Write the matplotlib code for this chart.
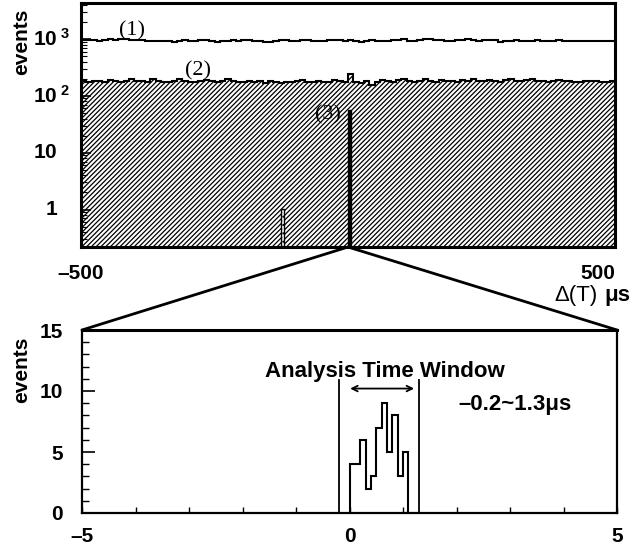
import numpy as np
import matplotlib
matplotlib.use("Agg")
import matplotlib.pyplot as plt
import matplotlib.transforms as mtransforms
from matplotlib.patches import ConnectionPatch

plt.rcParams['font.family'] = ['Liberation Sans', 'DejaVu Sans']
plt.rcParams['mathtext.fontset'] = 'custom'
plt.rcParams['mathtext.rm'] = 'Liberation Sans'
plt.rcParams['mathtext.bf'] = 'Liberation Sans:bold'
plt.rcParams['hatch.linewidth'] = 0.9

# ---------------- data ----------------
top_edges = np.arange(-500, 501, 10)  # delta T bins (us)

series1 = [960, 950, 975, 940, 955, 990, 980, 1000, 990, 975,
           950, 965, 940, 925, 910, 935, 920, 900, 915, 945,
           930, 905, 960, 950, 935, 895, 920, 935, 950, 930,
           960, 975, 935, 915, 900, 890, 935, 950, 965, 920,
           935, 965, 950, 905, 915, 935, 950, 980, 965, 935,
           950, 920, 900, 930, 955, 915, 935, 930, 950, 965,
           985, 940, 915, 950, 990, 1000, 980, 950, 915, 935,
           950, 965, 985, 950, 930, 965, 980, 950, 900, 915,
           930, 950, 935, 915, 935, 950, 940, 915, 935, 950,
           935, 935, 940, 935, 935, 930, 935, 935, 930, 935]

series2 = [182, 178, 186, 180, 176, 190, 182, 178, 184, 198,
           184, 180, 176, 196, 182, 172, 178, 186, 200, 182,
           178, 174, 182, 192, 184, 176, 186, 198, 182, 172,
           176, 182, 176, 186, 166, 180, 172, 168, 176, 178,
           182, 188, 174, 178, 182, 172, 178, 188, 182, 178,
           245, 174, 168, 182, 158, 178, 190, 182, 176, 188,
           196, 182, 176, 186, 200, 186, 176, 190, 182, 186,
           178, 192, 182, 198, 186, 180, 192, 186, 176, 190,
           196, 186, 180, 190, 196, 186, 182, 176, 186, 190,
           186, 180, 174, 178, 182, 186, 182, 178, 172, 186]

series3_x = [-125, 0]       # bin left edges (us)
series3_counts = [1, 56]

zoom_edges = [0.0, 0.1, 0.2, 0.3, 0.4, 0.5, 0.6, 0.7, 0.8, 0.9, 1.0, 1.1]
zoom_counts = [4, 4, 6, 2, 3, 7, 9, 5, 8, 3, 5]
window = [-0.2, 1.3]

top_ytick_vals = [1, 10, 100, 1000]
top_ytick_labels = [r'$\mathbf{1}$', r'$\mathbf{10}$',
                    r'$\mathbf{10^{\;2}}$', r'$\mathbf{10^{\;3}}$']

# ---------------- figure ----------------
W, H = 637, 550
fig = plt.figure(figsize=(W / 100, H / 100), dpi=100)

def frac(x0, y0, x1, y1):
    return [x0 / W, 1 - y1 / H, (x1 - x0) / W, (y1 - y0) / H]

ax1 = fig.add_axes(frac(81, 3, 615, 247))
ax2 = fig.add_axes(frac(82, 330, 617, 513))

# ---- top panel ----
ax1.set_yscale('log')
ax1.set_xlim(-500, 500)
ax1.set_ylim(0.22, 4300)

ax1.stairs(series2, top_edges, baseline=0.01, fill=True, hatch='///////',
           facecolor='none', edgecolor='black', linewidth=0)
ax1.stairs(series2, top_edges, baseline=None, color='black', linewidth=1.5)
ax1.stairs(series1, top_edges, baseline=None, color='black', linewidth=1.5)

ax1.bar(series3_x[1:], series3_counts[1:], width=5, align='edge',
        bottom=0.01, color='black', edgecolor='black', linewidth=1)
ax1.bar(series3_x[:1], series3_counts[:1], width=5, align='edge',
        bottom=0.01, facecolor='white', edgecolor='black', hatch='....',
        linewidth=1)

for s in ax1.spines.values():
    s.set_linewidth(2.2)

ax1.set_yticks(top_ytick_vals)
ax1.set_yticklabels([])
ax1.tick_params(axis='y', which='major', direction='in', length=7, width=1.2)
ax1.tick_params(axis='y', which='minor', direction='in', length=4, width=0.8)
ylab_tr = mtransforms.blended_transform_factory(fig.transFigure, ax1.transData)
for v, lab in zip(top_ytick_vals, top_ytick_labels):
    xpix = 45 if v == 1 else 33
    ax1.text(xpix / W, v, lab, transform=ylab_tr, fontsize=15,
             ha='left', va='center')

ax1.set_xticks([-500, 500])
ax1.set_xticklabels(['\u2013500', '500'], fontsize=15, fontweight='bold')
ax1.get_xticklabels()[1].set_horizontalalignment('right')
ax1.tick_params(axis='x', which='major', length=0, pad=12)
ax1.tick_params(axis='x', which='minor', bottom=False)

ax1.text(-404, 1380, '(1)', family='Liberation Serif', fontsize=16,
         ha='center', va='center')
ax1.text(-281, 275, '(2)', family='Liberation Serif', fontsize=16,
         ha='center', va='center')
ax1.text(-37, 46, '(3)', family='Liberation Serif', fontsize=16,
         ha='center', va='center')

fig.text(22 / W, 1 - 42 / H, 'events', rotation=90, fontsize=15,
         fontweight='bold', ha='center', va='center')
fig.text(598 / W, 1 - 296 / H, '\u0394(T)', fontsize=16,
         ha='right', va='center')
fig.text(604 / W, 1 - 296 / H, '\u03bcs', fontsize=16, fontweight='bold',
         ha='left', va='center')

# ---- bottom panel ----
ax2.set_xlim(-5, 5)
ax2.set_ylim(0, 15)
ax2.stairs(zoom_counts, zoom_edges, baseline=0, color='black', linewidth=1.5)
for w in window:
    ax2.plot([w, w], [0, 10.9], color='black', linewidth=1.3)
ax2.annotate('', xy=(-0.04, 10.2), xytext=(1.26, 10.2),
             arrowprops=dict(arrowstyle='<->', color='black', lw=1.3))
ax2.text(0.66, 11.6, 'Analysis Time Window', fontsize=16, fontweight='bold',
         ha='center', va='center')
ax2.text(3.1, 8.9, '\u20130.2~1.3\u03bcs', fontsize=16, fontweight='bold',
         ha='center', va='center')

for k, s in ax2.spines.items():
    s.set_linewidth(1.6)
ax2.spines['top'].set_linewidth(2.2)

ax2.set_yticks([0, 5, 10, 15])
ax2.set_yticks(np.arange(0, 16, 1), minor=True)
ax2.set_yticklabels(['0', '5', '10', '15'], fontsize=15, fontweight='bold')
ax2.tick_params(axis='y', which='major', direction='in', length=9, width=1.2, pad=14)
ax2.tick_params(axis='y', which='minor', direction='in', length=5, width=1)
ax2.set_xticks([-5, 0, 5])
ax2.set_xticks(np.arange(-5, 6, 1), minor=True)
ax2.set_xticklabels(['\u20135', '0', '5'], fontsize=15, fontweight='bold')
ax2.tick_params(axis='x', which='major', direction='in', length=4, width=1, pad=10)
ax2.tick_params(axis='x', which='minor', direction='in', length=4, width=1)

fig.text(22 / W, 1 - 370 / H, 'events', rotation=90, fontsize=15,
         fontweight='bold', ha='center', va='center')

# ---- zoom connector lines ----
for xb in (0, 1):
    con = ConnectionPatch(xyA=(0, 0), coordsA=ax1.get_xaxis_transform(),
                          xyB=(xb, 1), coordsB=ax2.transAxes,
                          color='black', linewidth=2)
    fig.add_artist(con)

fig.savefig('out.png', dpi=100)
